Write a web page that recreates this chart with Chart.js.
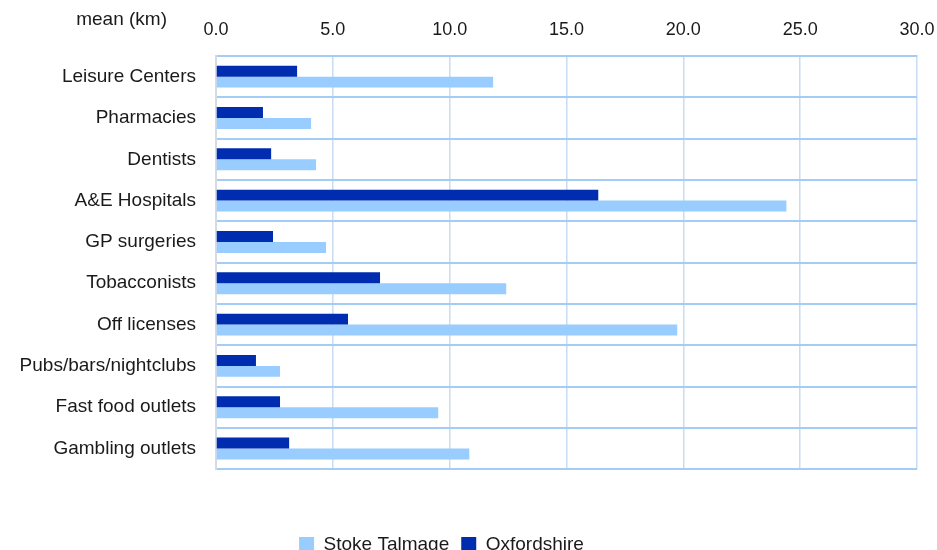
<!DOCTYPE html>
<html>
<head>
<meta charset="utf-8">
<script src="https://cdn.jsdelivr.net/npm/chart.js@4"></script>
<style>
  html, body { margin: 0; padding: 0; background: #fff; overflow: hidden; }
  #wrap { width: 937px; height: 550px; overflow: hidden; }
</style>
</head>
<body>
<div id="wrap"><canvas id="chartCanvas" width="937" height="564"></canvas></div>
<script>
const categories = [
  "Leisure Centers", "Pharmacies", "Dentists", "A&E Hospitals", "GP surgeries",
  "Tobacconists", "Off licenses", "Pubs/bars/nightclubs", "Fast food outlets", "Gambling outlets"
];
const oxfordshire = [3.47, 2.01, 2.36, 16.36, 2.44, 7.02, 5.65, 1.71, 2.74, 3.13];
const stokeTalmage = [11.86, 4.07, 4.28, 24.41, 4.71, 12.42, 19.74, 2.74, 9.51, 10.84];
const xTicks = [0, 5, 10, 15, 20, 25, 30];

const family = "'Liberation Sans', Arial, sans-serif";

// caption next to the top axis + nudge the legend a bit left like the original
const captionPlugin = {
  id: "caption",
  afterLayout(chart) {
    if (chart.legend) {
      chart.legend.left -= 17;
      chart.legend.right -= 17;
    }
  },
  afterDraw(chart) {
    const ctx = chart.ctx;
    ctx.save();
    ctx.font = "19px " + family;
    ctx.fillStyle = "#1a1a1a";
    ctx.textAlign = "right";
    ctx.textBaseline = "middle";
    ctx.fillText("mean (km)", 167, 20);
    ctx.restore();
  }
};

new Chart(document.getElementById("chartCanvas"), {
  type: "bar",
  data: {
    labels: categories,
    datasets: [
      {
        label: "Oxfordshire",
        data: oxfordshire,
        backgroundColor: "#002cb0",
        barPercentage: 1,
        categoryPercentage: 0.53,
      },
      {
        label: "Stoke Talmage",
        data: stokeTalmage,
        backgroundColor: "#99ccff",
        barPercentage: 1,
        categoryPercentage: 0.53,
      },
    ],
  },
  options: {
    indexAxis: "y",
    responsive: false,
    animation: false,
    layout: { padding: { left: 0, right: 20, top: 0, bottom: 0 } },
    scales: {
      x: {
        position: "top",
        min: 0,
        max: 30,
        afterBuildTicks: (scale) => {
          scale.ticks = xTicks.map((v) => ({ value: v }));
        },
        afterFit: (scale) => {
          scale.height = 56;
          scale.paddingLeft = 0;
          scale.paddingRight = 0;
        },
        ticks: {
          font: { family: family, size: 18 },
          color: "#1a1a1a",
          padding: 15,
          maxRotation: 0,
          callback: (v) => Number(v).toFixed(1),
        },
        grid: { color: "#c8dcf2", lineWidth: 1.5, drawTicks: false },
        border: { color: "#a3cdf7", width: 2 },
      },
      y: {
        afterFit: (scale) => { scale.width = 216; },
        ticks: { font: { family: family, size: 19 }, color: "#1a1a1a", padding: 20 },
        grid: { color: "#a3cdf7", lineWidth: 2, drawTicks: false, offset: true },
        border: { color: "#d3dbe6", width: 2 },
      },
    },
    plugins: {
      legend: {
        position: "bottom",
        reverse: true,
        title: { display: true, text: " ", padding: { top: 31, bottom: 0 }, font: { family: family, size: 19 } },
        labels: {
          font: { family: family, size: 19 },
          color: "#1a1a1a",
          boxWidth: 15,
          boxHeight: 15,
          padding: 12,
        },
      },
      tooltip: { enabled: false },
    },
  },
  plugins: [captionPlugin],
});
</script>
</body>
</html>
